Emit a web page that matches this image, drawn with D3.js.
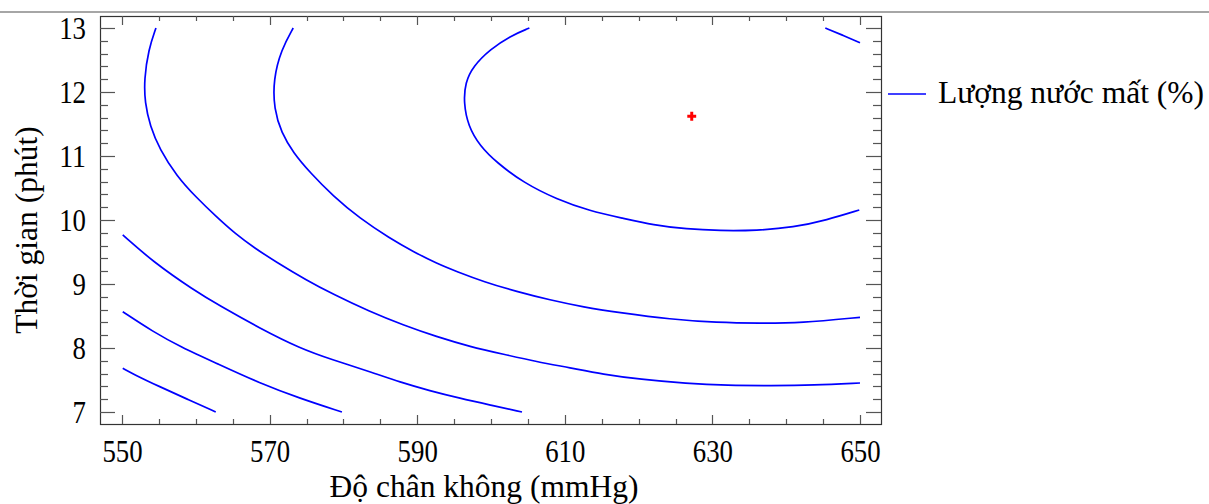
<!DOCTYPE html>
<html>
<head>
<meta charset="utf-8">
<script src="https://cdn.jsdelivr.net/npm/d3@7"></script>
<style>
  html, body { margin: 0; padding: 0; background: #fff; }
  svg { display: block; }
  text { font-family: "Liberation Serif", "Times New Roman", serif; fill: #000; }
</style>
</head>
<body>
<svg id="chart" width="1209" height="504"></svg>
<script>
// ---- data ----
const xTickValues = [550, 570, 590, 610, 630, 650];
const yTickValues = [7, 8, 9, 10, 11, 12, 13];
const xTitle = "Độ chân không (mmHg)";
const yTitle = "Thời gian (phút)";
const legendLabel = "Lượng nước mất (%)";

// contour lines, [vacuum (mmHg), time (min)]
const contour1 = [[550.1,7.683],[551.5,7.594],[555.1,7.395],[558.8,7.203],[562.7,7.0]];
const contour2 = [[550.1,8.567],[554.2,8.255],[557.9,8.02],[562.8,7.761],[568.7,7.448],[574.1,7.214],[579.8,7.0]];
const contour3 = [[550.1,9.766],[554.2,9.348],[559.7,8.906],[563.3,8.656],[568.7,8.308],[574.1,7.995],[578.6,7.813],[583.6,7.63],[587.7,7.464],[591.7,7.333],[595.8,7.214],[599.9,7.109],[604.2,7.0]];
const contour4 = [[554.6,13.0],[553.6,12.667],[553.0,12.198],[553.1,11.833],[553.8,11.469],[555.1,11.105],[557.4,10.688],[560.1,10.348],[562.8,10.05],[565.3,9.79],[568.0,9.56],[570.8,9.35],[575.0,9.06],[578.6,8.84],[583.6,8.567],[588.1,8.359],[592.6,8.177],[597.2,8.02],[601.7,7.902],[606.2,7.786],[610.7,7.692],[615.2,7.589],[620.2,7.511],[626.5,7.445],[632.0,7.415],[638.0,7.412],[643.7,7.418],[650.0,7.453]];
const contour5 = [[573.2,13.0],[571.6,12.667],[570.5,12.198],[570.6,11.73],[571.6,11.364],[573.2,11.052],[575.5,10.739],[578.6,10.375],[582.2,10.027],[586.3,9.714],[589.5,9.505],[592.6,9.323],[595.4,9.192],[599.0,9.036],[603.5,8.88],[608.0,8.75],[612.5,8.64],[617.5,8.552],[624.3,8.448],[630.6,8.396],[636.5,8.386],[641.9,8.39],[650.0,8.48]];
const contour6 = [[605.2,13.0],[602.6,12.875],[599.9,12.667],[597.6,12.406],[596.5,12.145],[596.3,11.833],[596.9,11.469],[598.5,11.156],[600.8,10.895],[604.4,10.583],[608.9,10.323],[613.4,10.141],[617.9,10.027],[622.0,9.922],[626.5,9.857],[631.0,9.833],[636.0,9.835],[641.0,9.885],[645.5,10.0],[649.9,10.156]];
const contour7 = [[645.3,13.0],[647.6,12.89],[650.0,12.77]];
const contours = [contour1, contour2, contour3, contour4, contour5, contour6, contour7];

const optimum = [627.2, 11.62];

// ---- layout ----
const svg = d3.select("#chart");
const frame = { left: 100, right: 881, top: 16, bottom: 424 };

const x = d3.scaleLinear().domain([550, 650]).range([122, 860]);
const y = d3.scaleLinear().domain([7, 13]).range([412, 28]);

// top grey rule
svg.append("line")
  .attr("x1", 0).attr("x2", 1209).attr("y1", 12).attr("y2", 12)
  .attr("stroke", "#a6a6a6").attr("stroke-width", 2);

// frame
svg.append("rect")
  .attr("x", frame.left + 0.5).attr("y", frame.top + 0.5)
  .attr("width", frame.right - frame.left).attr("height", frame.bottom - frame.top)
  .attr("fill", "none").attr("stroke", "#333").attr("stroke-width", 1.2);

// ticks
const xMinor = d3.range(550, 651, 5);
const yMinor = d3.range(7, 13.001, 0.2).map(v => +v.toFixed(1));
const tickG = svg.append("g").attr("stroke", "#555").attr("stroke-width", 1.2);

xMinor.forEach(v => {
  const major = xTickValues.includes(v);
  const len = major ? 9 : 5;
  const px = Math.round(x(v)) + 0.5;
  tickG.append("line").attr("x1", px).attr("x2", px)
    .attr("y1", frame.bottom).attr("y2", frame.bottom - len);
  tickG.append("line").attr("x1", px).attr("x2", px)
    .attr("y1", frame.top).attr("y2", frame.top + len);
});
yMinor.forEach(v => {
  const major = Math.abs(v - Math.round(v)) < 1e-6;
  const len = major ? 15 : 8;
  const py = Math.round(y(v)) + 0.5;
  tickG.append("line").attr("x1", frame.left).attr("x2", frame.left + len)
    .attr("y1", py).attr("y2", py);
  tickG.append("line").attr("x1", frame.right).attr("x2", frame.right - len)
    .attr("y1", py).attr("y2", py);
});

// tick labels via d3 axes (domain/ticks hidden; labels only)
const tickFont = 31;
const digitW = 13.4;
const xAxis = d3.axisBottom(x).tickValues(xTickValues).tickSize(0).tickPadding(0).tickFormat(d3.format("d"));
const gx = svg.append("g").attr("transform", `translate(0, 462)`).call(xAxis);
gx.select(".domain").remove();
gx.selectAll("text")
  .attr("font-size", tickFont).attr("font-family", "Liberation Serif")
  .attr("dy", 0).attr("y", 0)
  .attr("textLength", d => String(d).length * digitW)
  .attr("lengthAdjust", "spacingAndGlyphs");

const yAxis = d3.axisLeft(y).tickValues(yTickValues).tickSize(0).tickPadding(0).tickFormat(d3.format("d"));
const gy = svg.append("g").attr("transform", `translate(86, 0)`).call(yAxis);
gy.select(".domain").remove();
gy.selectAll("text")
  .attr("font-size", tickFont).attr("font-family", "Liberation Serif")
  .attr("dy", "0.33em").attr("x", 0)
  .attr("textLength", d => String(d).length * digitW)
  .attr("lengthAdjust", "spacingAndGlyphs");

// axis titles
svg.append("text")
  .attr("x", 484).attr("y", 497)
  .attr("text-anchor", "middle").attr("font-size", 31.5)
  .text(xTitle);
svg.append("text")
  .attr("transform", "translate(37, 230) rotate(-90)")
  .attr("text-anchor", "middle").attr("font-size", 31.5)
  .text(yTitle);

// contours
const line = d3.line().x(d => x(d[0])).y(d => y(d[1])).curve(d3.curveBasis);
svg.append("g").selectAll("path").data(contours).join("path")
  .attr("d", line)
  .attr("fill", "none").attr("stroke", "#0000ff").attr("stroke-width", 1.7);

// optimum marker
svg.append("path")
  .attr("d", d3.symbol(d3.symbolCross, 44)())
  .attr("transform", `translate(${x(optimum[0])}, ${y(optimum[1])})`)
  .attr("fill", "#ff0000");

// legend
svg.append("line")
  .attr("x1", 888).attr("x2", 926).attr("y1", 94).attr("y2", 94)
  .attr("stroke", "#0000ff").attr("stroke-width", 1.7);
svg.append("text")
  .attr("x", 938).attr("y", 103)
  .attr("font-size", 31.5)
  .text(legendLabel);
</script>
</body>
</html>
